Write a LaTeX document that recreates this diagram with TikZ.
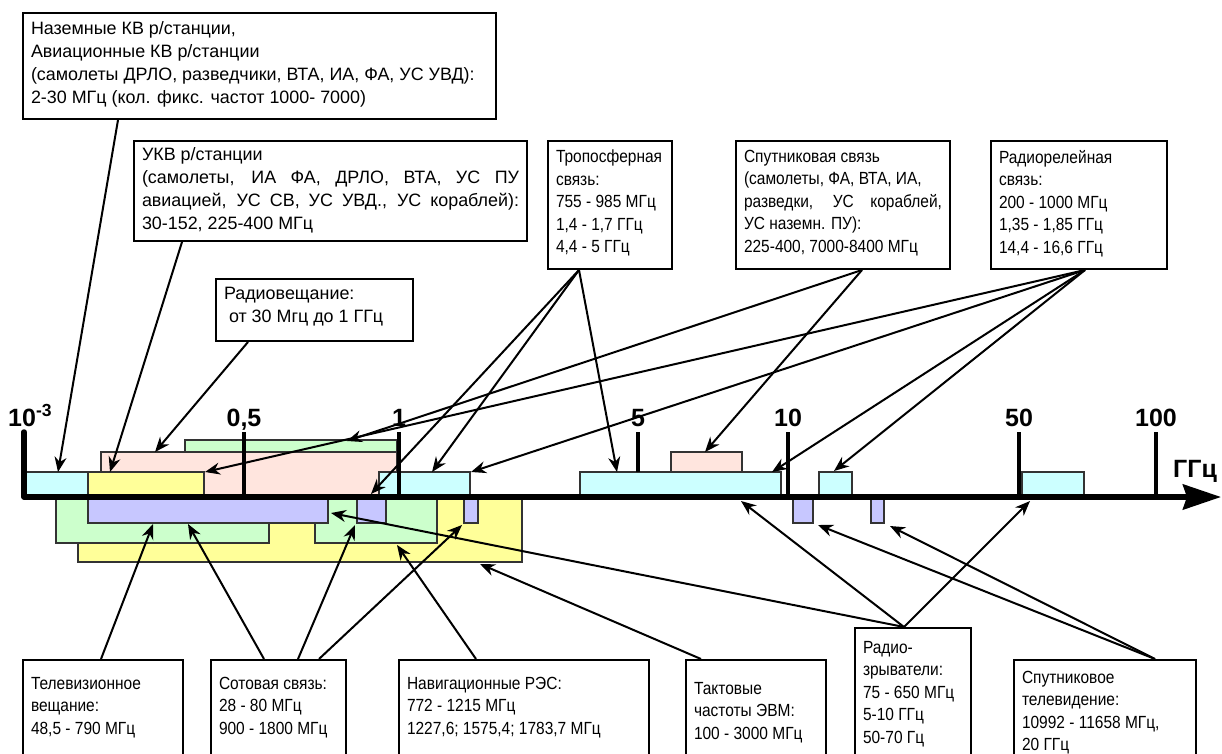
\documentclass[tikz,border=0pt]{standalone}
\usepackage{fontspec}
\setmainfont{Liberation Sans}
\newfontfamily\narrowface[FakeStretch=0.88]{Liberation Sans}
\usetikzlibrary{arrows.meta,calc}

\definecolor{bandcyan}{RGB}{204,255,255}
\definecolor{bandyellow}{RGB}{255,255,153}
\definecolor{bandpink}{RGB}{255,229,222}
\definecolor{bandgreen}{RGB}{204,255,204}
\definecolor{bandblue}{RGB}{199,199,255}

\newcommand{\widefont}{\fontsize{17.9}{22.7}\selectfont}
\newcommand{\smallfont}{\narrowface\fontsize{17.6}{22.5}\selectfont}
\newcommand{\boxtext}[4]{\parbox[c][#2][t]{#1}{\vspace*{#3}#4}}

\tikzset{
  infobox/.style={draw, line width=2pt, inner xsep=8pt, inner ysep=0pt, anchor=north west},
  band/.style={draw=black!80, line width=1.2pt},
  pointer/.style={line width=2pt, -{Stealth[length=15pt,width=12pt]}},
  tickline/.style={line width=4.5pt},
  axisline/.style={line width=5.5pt, line join=round, line cap=round,
    -{Stealth[length=38pt,width=25pt,inset=4pt]}},
  scalelabel/.style={font=\fontsize{25}{28}\selectfont\bfseries, anchor=base, inner sep=0pt},
}

\begin{document}
\begin{tikzpicture}[x=1pt, y=-1pt]
  \useasboundingbox (0,0) rectangle (1222,754);
  \clip (0,0) rectangle (1222,754);

  % bands above the axis
  \filldraw[band, fill=bandgreen] (185,440) rectangle (397,497);
  \filldraw[band, fill=bandpink] (101,452) rectangle (397,497);
  \filldraw[band, fill=bandcyan] (25,472) rectangle (88,497);
  \filldraw[band, fill=bandyellow] (88,472) rectangle (204,497);
  \filldraw[band, fill=bandcyan] (379,472) rectangle (470,497);
  \filldraw[band, fill=bandcyan] (580,472) rectangle (781,497);
  \filldraw[band, fill=bandpink] (671,452) rectangle (742,472);
  \filldraw[band, fill=bandcyan] (819,472) rectangle (852,497);
  \filldraw[band, fill=bandcyan] (1022,472) rectangle (1084,497);

  % bands below the axis
  \filldraw[band, fill=bandyellow] (78,497) rectangle (522,562);
  \filldraw[band, fill=bandgreen] (56,497) rectangle (269,543);
  \filldraw[band, fill=bandgreen] (315,497) rectangle (437,543);
  \filldraw[band, fill=bandblue] (88,497) rectangle (328,523);
  \filldraw[band, fill=bandblue] (357,497) rectangle (386,523);
  \filldraw[band, fill=bandblue] (464,497) rectangle (478,523);
  \filldraw[band, fill=bandblue] (793,497) rectangle (813,523);
  \filldraw[band, fill=bandblue] (871,497) rectangle (884,523);

  % axis, ticks, labels
  \draw[axisline] (24,432) -- (24,497) -- (1221,497);
  \foreach \x/\lab in {244/{0,5}, 399/1, 788/10, 1019/50, 1156/100} {
    \draw[tickline] (\x,432) -- (\x,497);
    \node[scalelabel] (lab\x) at (\x,426) {\lab};
  }
  \draw[tickline] (638,432) -- (638,472);
  \node[scalelabel] (lab638) at (638,426) {5};
  \node[scalelabel, anchor=base west] (lab24) at (8,426) {10\textsuperscript{-3}};
  \node[scalelabel] (unit) at (1195,477) {ГГц};

  % upper boxes
  \node[infobox, font=\widefont] (kv) at (22,12) {\boxtext{457pt}{106pt}{9pt}{%
    Наземные КВ р/станции,\\
    Авиационные КВ р/станции\\
    (самолеты ДРЛО, разведчики, ВТА, ИА, ФА, УС УВД):\\
    2-30 МГц (кол. фикс. частот 1000- 7000)}};
  \node[infobox, font=\widefont] (ukv) at (133,140) {\boxtext{377pt}{100pt}{7pt}{%
    УКВ р/станции\\
    \makebox[\hsize][s]{(самолеты, ИА ФА, ДРЛО, ВТА, УС ПУ}\\
    \makebox[\hsize][s]{авиацией, УС СВ, УС УВД., УС кораблей):}\\
    30-152, 225-400 МГц}};
  \node[infobox, font=\widefont] (radio) at (215,278) {\boxtext{181pt}{62pt}{8pt}{%
    Радиовещание:\\
    \hspace*{0.28em}от 30 Мгц до 1 ГГц}};
  \node[infobox, font=\smallfont] (tropo) at (547,140) {\boxtext{108pt}{128pt}{9pt}{%
    Тропосферная\\
    связь:\\
    755 - 985 МГц\\
    1,4 - 1,7 ГГц\\
    4,4 - 5 ГГц}};
  \node[infobox, font=\smallfont] (sat) at (735,140) {\boxtext{198pt}{128pt}{9pt}{%
    Спутниковая связь\\
    (самолеты, ФА, ВТА, ИА,\\
    \makebox[\hsize][s]{разведки, УС кораблей,}\\
    УС наземн. ПУ):\\
    225-400, 7000-8400 МГц}};
  \node[infobox, font=\smallfont] (relay) at (990,140) {\boxtext{160pt}{128pt}{9pt}{%
    Радиорелейная\\
    связь:\\
    200 - 1000 МГц\\
    1,35 - 1,85 ГГц\\
    14,4 - 16,6 ГГц}};

  % lower boxes
  \node[infobox, font=\smallfont] (tv) at (22,659) {\boxtext{144pt}{121pt}{17pt}{%
    Телевизионное\\
    вещание:\\
    48,5 - 790 МГц}};
  \node[infobox, font=\smallfont] (cell) at (210,659) {\boxtext{119pt}{121pt}{17pt}{%
    Сотовая связь:\\
    28 - 80 МГц\\
    900 - 1800 МГц}};
  \node[infobox, font=\smallfont] (nav) at (398,659) {\boxtext{234pt}{121pt}{17pt}{%
    Навигационные РЭС:\\
    772 - 1215 МГц\\
    1227,6; 1575,4; 1783,7 МГц}};
  \node[infobox, font=\smallfont] (clock) at (685,659) {\boxtext{124pt}{121pt}{22pt}{%
    Тактовые\\
    частоты ЭВМ:\\
    100 - 3000 МГц}};
  \node[infobox, font=\smallfont] (fuse) at (854,627) {\boxtext{100pt}{153pt}{13pt}{%
    Радио-\\
    зрыватели:\\
    75 - 650 МГц\\
    5-10 ГГц\\
    50-70 Гц}};
  \node[infobox, font=\smallfont] (sattv) at (1013,659) {\boxtext{166pt}{121pt}{11pt}{%
    Спутниковое\\
    телевидение:\\
    10992 - 11658 МГц,\\
    20 ГГц}};

  % arrow targets on the bands
  \coordinate (tKV) at (58,472);
  \coordinate (tUKV) at (110,472);
  \coordinate (tRadio) at (155,452);
  \coordinate (tTropoA) at (371,494);
  \coordinate (tTropoB) at (432,472);
  \coordinate (tTropoC) at (617,472);
  \coordinate (tSatA) at (705,452);
  \coordinate (tSatB) at (347,441);
  \coordinate (tRelayA) at (205,472);
  \coordinate (tRelayB) at (471,472);
  \coordinate (tRelayC) at (772,472);
  \coordinate (tRelayD) at (834,471);
  \coordinate (tTV) at (153,524);
  \coordinate (tCellA) at (188,524);
  \coordinate (tCellB) at (355,525);
  \coordinate (tCellC) at (462,525);
  \coordinate (tNav) at (397,545);
  \coordinate (tClock) at (480,564);
  \coordinate (tFuseA) at (331,513);
  \coordinate (tFuseB) at (741,501);
  \coordinate (tFuseC) at (1030,501);
  \coordinate (tSatTVA) at (818,525);
  \coordinate (tSatTVB) at (890,526);

  % pointers from the upper boxes
  \draw[pointer] ($(kv.south west)+(96,0)$) -- (tKV);
  \draw[pointer] ($(ukv.south west)+(49,0)$) -- (tUKV);
  \draw[pointer] ($(radio.south west)+(33,0)$) -- (tRadio);
  \foreach \t in {tTropoA,tTropoB,tTropoC}
    \draw[pointer] ($(tropo.south west)+(32,0)$) -- (\t);
  \foreach \t in {tSatA,tSatB}
    \draw[pointer] ($(sat.south west)+(127,0)$) -- (\t);
  \foreach \t in {tRelayA,tRelayB,tRelayC,tRelayD}
    \draw[pointer] ($(relay.south west)+(95,0)$) -- (\t);

  % pointers from the lower boxes
  \draw[pointer] ($(tv.north west)+(79,0)$) -- (tTV);
  \draw[pointer] ($(cell.north west)+(54,0)$) -- (tCellA);
  \draw[pointer] ($(cell.north west)+(88,0)$) -- (tCellB);
  \draw[pointer] ($(cell.north west)+(109,0)$) -- (tCellC);
  \draw[pointer] ($(nav.north west)+(78,0)$) -- (tNav);
  \draw[pointer] ($(clock.north west)+(16,0)$) -- (tClock);
  \foreach \t in {tFuseA,tFuseB,tFuseC}
    \draw[pointer] ($(fuse.north west)+(50,0)$) -- (\t);
  \foreach \t in {tSatTVA,tSatTVB}
    \draw[pointer] ($(sattv.north west)+(142,0)$) -- (\t);
\end{tikzpicture}
\end{document}
